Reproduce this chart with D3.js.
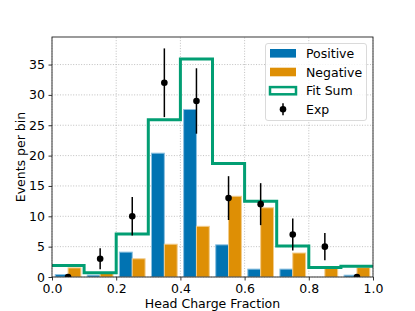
<!DOCTYPE html>
<html>
<head>
<meta charset="utf-8">
<script src="https://cdn.jsdelivr.net/npm/d3@7"></script>
<style>
  body { margin: 0; background: #fff; }
  svg text { font-family: "DejaVu Sans", sans-serif; }
</style>
</head>
<body>
<svg id="chart"></svg>
<script>
// bin left edges, bin centres and the values
var binEdges = [0.0, 0.1, 0.2, 0.3, 0.4, 0.5, 0.6, 0.7, 0.8, 0.9];
var binCenters = [0.05, 0.15, 0.25, 0.35, 0.45, 0.55, 0.65, 0.75, 0.85, 0.95];
var positive = [0.4, 0.3, 4.1, 20.4, 27.6, 5.3, 1.3, 1.3, 0, 0.3];
var negative = [1.5, 0.6, 3.0, 5.4, 8.35, 13.3, 11.4, 3.95, 1.4, 1.55];
var fitSum = [1.9, 0.7, 7.1, 25.9, 35.9, 18.7, 12.5, 5.1, 1.55, 1.76];
var expCounts = [0, 3, 10, 32, 29, 13, 12, 7, 5, 0];
var expErr = [0, 1.73, 3.16, 5.66, 5.39, 3.61, 3.46, 2.65, 2.24, 0];
var xTicks = [0, 0.2, 0.4, 0.6, 0.8, 1.0];
var yTicks = [0, 5, 10, 15, 20, 25, 30, 35];
var legendLabels = ["Positive", "Negative", "Fit Sum", "Exp"];

var BLUE = "#0173b2", ORANGE = "#de8f05", GREEN = "#029e73";
var FONT = 12.5;

var width = 415, height = 311;
var marginLeft = 52, marginRight = 42, marginTop = 37, marginBottom = 34;

var svg = d3.select("#chart")
    .attr("width", width)
    .attr("height", height)
    .attr("viewBox", [0, 0, width, height]);

var x = d3.scaleLinear([0, 1], [marginLeft, width - marginRight]);
var y = d3.scaleLinear([0, 39.54], [height - marginBottom, marginTop]);

svg.append("clipPath").attr("id", "clip")
  .append("rect")
    .attr("x", marginLeft).attr("y", marginTop)
    .attr("width", x(1) - x(0)).attr("height", y(0) - marginTop);

// grid
var grid = svg.append("g").attr("stroke", "#b0b0b0").attr("stroke-width", 0.8)
    .attr("stroke-dasharray", "1,1.65");
grid.selectAll(".gx").data(xTicks).join("line")
    .attr("x1", d => x(d)).attr("x2", d => x(d))
    .attr("y1", y.range()[0]).attr("y2", y.range()[1]);
grid.selectAll(".gy").data(yTicks).join("line")
    .attr("y1", d => y(d)).attr("y2", d => y(d))
    .attr("x1", x.range()[0]).attr("x2", x.range()[1]);

var plot = svg.append("g").attr("clip-path", "url(#clip)");

// bars
plot.append("g").selectAll("rect").data(positive).join("rect")
    .attr("x", (d, i) => x(binEdges[i] + 0.01))
    .attr("width", x(0.04) - x(0))
    .attr("y", d => y(d))
    .attr("height", d => y(0) - y(d))
    .attr("fill", BLUE)
    .attr("stroke", "#8cc0e0").attr("stroke-width", 1);

plot.append("g").selectAll("rect").data(negative).join("rect")
    .attr("x", (d, i) => x(binEdges[i] + 0.05))
    .attr("width", x(0.04) - x(0))
    .attr("y", d => y(d))
    .attr("height", d => y(0) - y(d))
    .attr("fill", ORANGE)
    .attr("stroke", "#f2cc8c").attr("stroke-width", 1);

// fit sum step line
var stepPts = binEdges.map((e, i) => [e, fitSum[i]]);
stepPts.push([1.0, fitSum[fitSum.length - 1]]);
var line = d3.line().x(d => x(d[0])).y(d => y(d[1])).curve(d3.curveStepAfter);
plot.append("path")
    .attr("fill", "none")
    .attr("stroke", GREEN)
    .attr("stroke-width", 3)
    .attr("d", line(stepPts));

// exp points with error bars
var eb = plot.append("g");
eb.selectAll("line").data(expCounts).join("line")
    .attr("x1", (d, i) => x(binCenters[i])).attr("x2", (d, i) => x(binCenters[i]))
    .attr("y1", (d, i) => y(d - expErr[i])).attr("y2", (d, i) => y(d + expErr[i]))
    .attr("stroke", "black").attr("stroke-width", 1.5);
eb.selectAll("circle").data(expCounts).join("circle")
    .attr("cx", (d, i) => x(binCenters[i]))
    .attr("cy", d => y(d))
    .attr("r", 3.3)
    .attr("fill", "black");

// axes
var xAxis = svg.append("g")
    .attr("transform", `translate(0,${y(0)})`)
    .call(d3.axisBottom(x).tickValues(xTicks).tickFormat(d3.format(".1f"))
        .tickSize(3.5).tickPadding(3.5).tickSizeOuter(0));
var yAxis = svg.append("g")
    .attr("transform", `translate(${marginLeft},0)`)
    .call(d3.axisLeft(y).tickValues(yTicks).tickSize(3.5).tickPadding(3.5).tickSizeOuter(0));
[xAxis, yAxis].forEach(function(g) {
    g.select(".domain").remove();
    g.selectAll("text").attr("font-size", FONT).attr("fill", "#000")
        .attr("font-family", "DejaVu Sans, sans-serif");
    g.selectAll(".tick line").attr("stroke", "#000").attr("stroke-width", 0.8);
});

// frame
svg.append("rect")
    .attr("x", marginLeft).attr("y", marginTop)
    .attr("width", x(1) - x(0)).attr("height", y(0) - marginTop)
    .attr("fill", "none").attr("stroke", "#222").attr("stroke-width", 0.9);

// labels
svg.append("text")
    .attr("x", (x(0) + x(1)) / 2).attr("y", 307.5)
    .attr("text-anchor", "middle").attr("font-size", FONT)
    .text("Head Charge Fraction");
svg.append("text")
    .attr("transform", `translate(25,${(y(0) + marginTop) / 2}) rotate(-90)`)
    .attr("text-anchor", "middle").attr("font-size", FONT)
    .text("Events per bin");

// legend
var lg = svg.append("g");
lg.append("rect")
    .attr("x", 265.5).attr("y", 43.5).attr("width", 101).attr("height", 77)
    .attr("rx", 2.5)
    .attr("fill", "white").attr("fill-opacity", 0.8)
    .attr("stroke", "#d0d0d0").attr("stroke-width", 0.8);
var rowY = [53.3, 72, 90.7, 109.3];
var rows = lg.selectAll(".row").data(legendLabels).join("g")
    .attr("transform", (d, i) => `translate(0,${rowY[i]})`);
rows.append("text")
    .attr("x", 306).attr("y", 4.5).attr("font-size", FONT)
    .text(d => d);
rows.filter((d, i) => i === 0).append("rect")
    .attr("x", 270).attr("y", -4.3).attr("width", 26).attr("height", 8.6).attr("fill", BLUE);
rows.filter((d, i) => i === 1).append("rect")
    .attr("x", 270).attr("y", -4.3).attr("width", 26).attr("height", 8.6).attr("fill", ORANGE);
rows.filter((d, i) => i === 2).append("rect")
    .attr("x", 270).attr("y", -3.6).attr("width", 26).attr("height", 7.2)
    .attr("fill", "white").attr("stroke", GREEN).attr("stroke-width", 2.5);
var expRow = rows.filter((d, i) => i === 3);
expRow.append("line")
    .attr("x1", 283).attr("x2", 283).attr("y1", -6).attr("y2", 6)
    .attr("stroke", "black").attr("stroke-width", 1.5);
expRow.append("circle").attr("cx", 283).attr("cy", 0).attr("r", 3.3).attr("fill", "black");
</script>
</body>
</html>
